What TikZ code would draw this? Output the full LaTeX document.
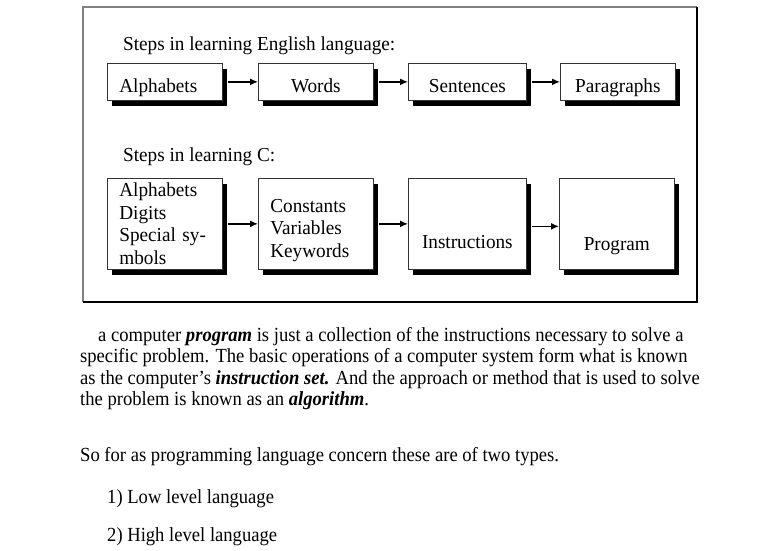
\documentclass[tikz,border=0pt]{standalone}
\usepackage{fontspec}
\setmainfont{Liberation Serif}
\newfontfamily\diagfont{Liberation Serif}[FakeStretch=0.97]
\newfontfamily\parafont{Liberation Serif}[FakeStretch=0.93, Ligatures=TeX]
\usepackage{tikz}
\usetikzlibrary{calc, arrows.meta, shadows}

\begin{document}
\begin{tikzpicture}[x=1pt, y=-1pt,
        font=\diagfont\fontsize{19.8}{22.5}\selectfont,
        >={Latex[length=8pt, width=7pt]},
        stepbox/.style={rectangle, draw=black!80, line width=0.7pt, fill=white, inner xsep=12pt,
            drop shadow={shadow xshift=5pt, shadow yshift=-6pt, fill=black, opacity=1}},
        wordbox/.style={stepbox, minimum width=115pt, minimum height=37pt, text height=24pt, text depth=3pt, anchor=north west},
        listbox/.style={stepbox, minimum width=115pt, minimum height=91pt, anchor=north west},
        flow/.style={->, line width=1.3pt},
        textline/.style={anchor=base west, inner sep=0pt},
        paraline/.style={textline, font=\parafont\fontsize{20}{21.5}\selectfont}]

        \useasboundingbox (0,0) rectangle (762,550);

        %% Frame
        \draw [gray, line width=2pt] (83,302) -- (83,7) -- (697,7);
        \draw [black, line width=1.2pt] (83,302) -- (697,302) -- (697,7);

        %% English language
        \node (english) [textline] at (123,50) {Steps in learning English language:};
        \node (alpha) [wordbox, align=left, text width=91pt] at (107,63) {Alphabets};
        \node (words) [wordbox] at (258,63) {Words};
        \node (sentences) [wordbox, minimum width=118pt] at (408,63) {Sentences};
        \node (paragraphs) [wordbox] at (560,63) {Paragraphs};

        %% C language
        \node (clang) [textline] at (123,161.7) {Steps in learning C:};
        \node (symbols) [listbox, align=left, text width=91pt] at (107,178) {Alphabets\\ Digits\\ Special sy-\\ mbols};
        \node (tokens) [listbox, align=left, text width=91pt, text height=14pt, text depth=37.6pt] at (258,178) {Constants\\ Variables\\ Keywords};
        \node (instructions) [listbox, minimum width=118pt, text height=52pt, text depth=3pt] at (408,178) {Instructions};
        \node (program) [listbox, text height=56pt, text depth=3pt] at (559,178) {Program};

        %% Arrows
        \draw [flow] ($(alpha.east) + (5,0)$) -- (words.west);
        \draw [flow] ($(words.east) + (5,0)$) -- (sentences.west);
        \draw [flow] ($(sentences.east) + (5,0)$) -- (paragraphs.west);
        \draw [flow] ($(symbols.east) + (5,0)$) -- (tokens.west);
        \draw [flow] ($(tokens.east) + (5,0)$) -- (instructions.west);
        \draw [flow] ($(instructions.east) + (5,2.5)$) -- ($(program.west) + (0,2.5)$);

        %% Text below
        \node (line1) [paraline] at (98,341) {a computer \textbf{\textit{program}} is just a collection of the instructions necessary to solve a};
        \node (line2) [paraline] at (80,362.5) {specific problem. The basic operations of a computer system form what is known};
        \node (line3) [paraline] at (80,384) {as the computer’s \textbf{\textit{instruction set.}} And the approach or method that is used to solve};
        \node (line4) [paraline] at (80,405.5) {the problem is known as an \textbf{\textit{algorithm}}.};

        \node (types) [paraline] at (80,461) {So for as programming language concern these are of two types.};
        \node (low) [paraline] at (107,503) {1) Low level language};
        \node (high) [paraline] at (107,541) {2) High level language};

\end{tikzpicture}
\end{document}
